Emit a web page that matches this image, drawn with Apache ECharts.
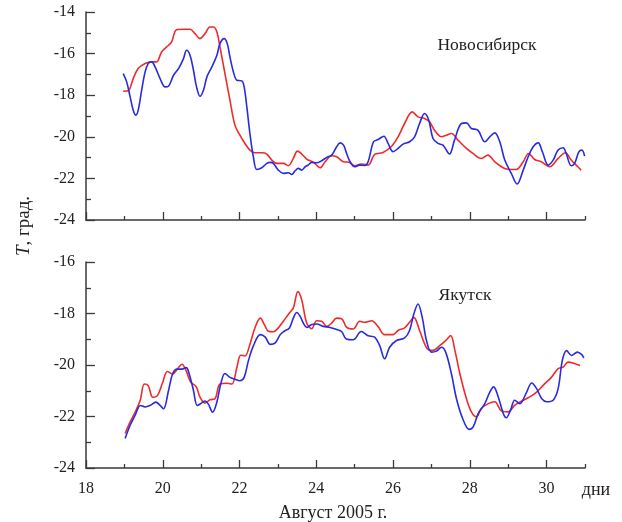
<!DOCTYPE html>
<html>
<head>
<meta charset="utf-8">
<script src="https://cdn.jsdelivr.net/npm/echarts@6/dist/echarts.min.js"></script>
<style>html,body{margin:0;padding:0;background:#fff;}#c{width:622px;height:522px;}</style>
</head>
<body>
<div id="c"></div>
<script>
// ---- data: [day of August 2005, temperature] ----
var novRed = [[18.97,-17.81],[19.10,-17.79],[19.23,-17.2],[19.36,-16.72],[19.54,-16.48],[19.71,-16.4],[19.84,-16.4],[19.97,-15.92],[20.15,-15.6],[20.23,-15.44],[20.36,-14.85],[20.54,-14.83],[20.71,-14.83],[20.84,-15.04],[20.97,-15.28],[21.10,-15.04],[21.23,-14.72],[21.32,-14.72],[21.41,-14.96],[21.49,-15.68],[21.62,-16.96],[21.75,-18.24],[21.88,-19.44],[22.01,-19.92],[22.14,-20.32],[22.27,-20.64],[22.40,-20.77],[22.58,-20.77],[22.71,-20.83],[22.84,-21.12],[22.97,-21.28],[23.14,-21.28],[23.27,-21.39],[23.40,-21.04],[23.51,-20.69],[23.62,-20.83],[23.75,-21.07],[23.93,-21.23],[24.10,-21.49],[24.23,-21.2],[24.40,-20.91],[24.53,-20.96],[24.71,-21.2],[24.85,-21.22],[25.0,-21.39],[25.17,-21.31],[25.35,-21.36],[25.52,-20.85],[25.74,-20.75],[25.95,-20.48],[26.13,-20.0],[26.30,-19.36],[26.50,-18.8],[26.65,-19.04],[26.82,-19.12],[26.95,-19.28],[27.08,-19.68],[27.26,-20.0],[27.39,-19.92],[27.52,-19.84],[27.69,-20.16],[27.91,-20.56],[28.08,-20.8],[28.30,-21.04],[28.47,-20.88],[28.65,-21.2],[28.91,-21.52],[29.08,-21.57],[29.21,-21.57],[29.39,-21.2],[29.53,-20.8],[29.69,-21.09],[29.86,-21.2],[30.08,-21.44],[30.30,-21.04],[30.49,-20.77],[30.64,-21.12],[30.77,-21.36],[30.90,-21.6]];
var novBlue = [[18.97,-16.96],[19.06,-17.36],[19.15,-18.08],[19.23,-18.72],[19.30,-18.96],[19.36,-18.72],[19.45,-17.76],[19.54,-16.88],[19.62,-16.48],[19.71,-16.4],[19.80,-16.64],[19.93,-17.2],[20.06,-17.6],[20.15,-17.57],[20.28,-17.04],[20.41,-16.72],[20.54,-16.24],[20.62,-15.84],[20.71,-16.08],[20.80,-16.8],[20.88,-17.6],[20.97,-18.05],[21.06,-17.76],[21.15,-17.12],[21.28,-16.64],[21.41,-16.08],[21.49,-15.52],[21.60,-15.28],[21.68,-15.52],[21.75,-16.16],[21.84,-16.88],[21.93,-17.28],[22.06,-17.31],[22.12,-17.6],[22.19,-18.56],[22.27,-19.84],[22.36,-20.96],[22.45,-21.57],[22.58,-21.49],[22.71,-21.28],[22.80,-21.23],[22.88,-21.28],[23.01,-21.6],[23.14,-21.76],[23.27,-21.73],[23.36,-21.81],[23.45,-21.63],[23.53,-21.52],[23.62,-21.6],[23.71,-21.44],[23.79,-21.36],[23.88,-21.23],[24.01,-21.25],[24.14,-21.15],[24.27,-20.99],[24.40,-20.88],[24.53,-20.48],[24.62,-20.29],[24.71,-20.4],[24.79,-20.8],[24.88,-21.2],[25.0,-21.44],[25.13,-21.36],[25.26,-21.38],[25.35,-21.2],[25.49,-20.24],[25.61,-20.13],[25.76,-19.97],[25.87,-20.32],[26.0,-20.72],[26.13,-20.56],[26.26,-20.35],[26.43,-20.24],[26.56,-20.0],[26.69,-19.36],[26.82,-18.88],[26.93,-19.2],[27.04,-20.08],[27.17,-20.32],[27.30,-20.4],[27.47,-20.83],[27.60,-20.16],[27.78,-19.36],[27.91,-19.33],[28.04,-19.6],[28.21,-19.68],[28.39,-20.24],[28.52,-20.0],[28.65,-19.81],[28.78,-20.24],[28.91,-21.12],[29.08,-21.76],[29.23,-22.27],[29.39,-21.6],[29.52,-20.96],[29.65,-20.48],[29.78,-20.29],[29.89,-20.72],[30.04,-21.36],[30.17,-21.12],[30.30,-20.64],[30.43,-20.53],[30.51,-20.8],[30.64,-21.39],[30.73,-21.28],[30.84,-20.72],[30.92,-20.64],[30.99,-20.93]];
var yakRed = [[19.02,-22.66],[19.15,-22.21],[19.28,-21.83],[19.41,-21.38],[19.52,-20.74],[19.62,-20.8],[19.74,-21.25],[19.86,-21.19],[20.0,-20.67],[20.12,-20.25],[20.26,-20.35],[20.38,-20.16],[20.50,-19.97],[20.61,-20.23],[20.73,-20.67],[20.87,-20.84],[20.97,-21.25],[21.10,-21.48],[21.23,-21.35],[21.36,-21.31],[21.49,-20.74],[21.67,-20.71],[21.80,-20.74],[21.93,-20.1],[22.03,-19.62],[22.14,-19.65],[22.27,-19.2],[22.40,-18.56],[22.54,-18.18],[22.67,-18.5],[22.75,-18.69],[22.88,-18.71],[23.01,-18.56],[23.14,-18.3],[23.30,-17.98],[23.40,-17.79],[23.52,-17.15],[23.62,-17.47],[23.75,-18.37],[23.88,-18.59],[24.01,-18.28],[24.14,-18.3],[24.27,-18.5],[24.40,-18.37],[24.53,-18.18],[24.66,-18.2],[24.79,-18.54],[24.96,-18.6],[25.13,-18.3],[25.26,-18.34],[25.44,-18.28],[25.61,-18.51],[25.78,-18.82],[26.0,-18.82],[26.13,-18.66],[26.30,-18.56],[26.43,-18.34],[26.54,-18.15],[26.69,-18.66],[26.89,-19.37],[27.04,-19.43],[27.22,-19.24],[27.37,-19.05],[27.50,-18.86],[27.61,-19.43],[27.74,-20.34],[27.91,-21.3],[28.04,-21.82],[28.17,-22.01],[28.30,-21.69],[28.48,-21.5],[28.65,-21.43],[28.82,-21.78],[29.0,-21.82],[29.17,-21.56],[29.34,-21.41],[29.56,-21.24],[29.74,-21.05],[29.91,-20.79],[30.13,-20.47],[30.30,-20.14],[30.43,-20.08],[30.56,-19.89],[30.74,-19.95],[30.87,-20.02]];
var yakBlue = [[19.02,-22.85],[19.15,-22.34],[19.28,-21.95],[19.42,-21.57],[19.54,-21.63],[19.67,-21.57],[19.82,-21.44],[19.93,-21.57],[20.02,-21.7],[20.15,-20.99],[20.26,-20.33],[20.38,-20.16],[20.50,-20.16],[20.61,-20.1],[20.69,-20.35],[20.80,-20.99],[20.90,-21.57],[21.01,-21.48],[21.10,-21.4],[21.18,-21.5],[21.30,-21.83],[21.41,-21.44],[21.51,-20.74],[21.62,-20.33],[21.75,-20.48],[21.88,-20.55],[22.01,-20.61],[22.12,-20.48],[22.23,-19.84],[22.36,-19.26],[22.54,-18.82],[22.67,-18.92],[22.80,-19.2],[22.93,-19.14],[23.06,-18.82],[23.16,-18.69],[23.30,-18.56],[23.40,-18.18],[23.49,-17.96],[23.58,-18.11],[23.66,-18.37],[23.75,-18.54],[23.88,-18.43],[24.01,-18.41],[24.18,-18.5],[24.36,-18.54],[24.53,-18.62],[24.66,-18.7],[24.78,-18.99],[24.96,-19.02],[25.17,-18.7],[25.35,-18.86],[25.52,-18.92],[25.65,-19.24],[25.78,-19.76],[25.91,-19.31],[26.09,-19.05],[26.30,-18.95],[26.43,-18.66],[26.54,-18.02],[26.65,-17.63],[26.76,-18.15],[26.87,-19.05],[27.0,-19.5],[27.13,-19.46],[27.26,-19.31],[27.37,-19.5],[27.52,-20.34],[27.65,-21.3],[27.81,-22.07],[27.98,-22.5],[28.09,-22.39],[28.22,-21.88],[28.39,-21.5],[28.52,-21.05],[28.62,-20.85],[28.74,-21.24],[28.87,-21.88],[28.95,-22.05],[29.06,-21.75],[29.17,-21.37],[29.30,-21.5],[29.48,-21.05],[29.61,-20.7],[29.74,-20.92],[29.87,-21.3],[30.0,-21.43],[30.17,-21.37],[30.30,-20.92],[30.41,-19.82],[30.52,-19.44],[30.65,-19.63],[30.80,-19.5],[30.91,-19.59],[30.97,-19.72]];
var xMajorTicks = [18, 20, 22, 24, 26, 28, 30];
var xMinorTicks = [19, 21, 23, 25, 27, 29, 31];
var panelNames = ['Новосибирск', 'Якутск'];
var xAxisTitle = 'Август 2005 г.';
var xUnit = 'дни';

var FONT = '"Liberation Serif", "Times New Roman", serif';
var AX = '#3a3a3a';
var RED = '#ee2b2b';
var BLUE = '#2a2ae0';

function xAxes(g, labels) {
  return [{
    type: 'value', gridIndex: g, position: 'bottom', min: 18, max: 31, interval: 1,
    axisLine: { show: true, onZero: false, lineStyle: { color: AX, width: 1.5 } },
    axisTick: { show: true, inside: true, length: 8, customValues: xMajorTicks, lineStyle: { color: AX, width: 1.3 } },
    axisLabel: { show: labels, customValues: xMajorTicks, margin: 13, color: '#222', fontFamily: FONT, fontSize: 16 },
    splitLine: { show: false }
  }, {
    type: 'value', gridIndex: g, position: 'bottom', min: 18, max: 31, interval: 1,
    axisLine: { show: false, onZero: false },
    axisTick: { show: true, inside: true, length: 4, customValues: xMinorTicks, lineStyle: { color: AX, width: 1.3 } },
    axisLabel: { show: false },
    splitLine: { show: false }
  }];
}
function yAxis(g, min, max) {
  return {
    type: 'value', gridIndex: g, position: 'left', min: min, max: max, interval: 2,
    axisLine: { show: true, onZero: false, lineStyle: { color: AX, width: 1.5 } },
    axisTick: { show: true, inside: true, length: 9, lineStyle: { color: AX, width: 1.3 } },
    minorTick: { show: true, splitNumber: 2, length: 5, lineStyle: { color: AX, width: 1.3 } },
    axisLabel: { margin: 11, color: '#222', fontFamily: FONT, fontSize: 16 },
    splitLine: { show: false }, minorSplitLine: { show: false }
  };
}
function line(data, color, xi, yi) {
  return {
    type: 'line', data: data, xAxisIndex: xi, yAxisIndex: yi, smooth: 0.35,
    showSymbol: false, symbol: 'none', lineStyle: { color: color, width: 1.6 }, silent: true
  };
}

var chart = echarts.init(document.getElementById('c'), null, { renderer: 'canvas' });
chart.setOption({
  animation: false,
  backgroundColor: '#fff',
  grid: [
    { left: 86, top: 12, width: 499, height: 208 },
    { left: 86, top: 262, width: 499, height: 206 }
  ],
  xAxis: xAxes(0, false).concat(xAxes(1, true)),
  yAxis: [yAxis(0, -24, -14), yAxis(1, -24, -16)],
  series: [
    line(novRed, RED, 0, 0),
    line(novBlue, BLUE, 0, 0),
    line(yakRed, RED, 2, 1),
    line(yakBlue, BLUE, 2, 1)
  ],
  graphic: [
    { type: 'text', x: 487, y: 45, style: { text: panelNames[0], font: '17.5px ' + FONT, fill: '#222', align: 'center', verticalAlign: 'middle' } },
    { type: 'text', x: 465, y: 295, style: { text: panelNames[1], font: '17.5px ' + FONT, fill: '#222', align: 'center', verticalAlign: 'middle' } },
    { type: 'text', x: 596, y: 490, style: { text: xUnit, font: '18px ' + FONT, fill: '#222', align: 'center', verticalAlign: 'middle' } },
    { type: 'text', x: 333, y: 513, style: { text: xAxisTitle, font: '18px ' + FONT, fill: '#222', align: 'center', verticalAlign: 'middle' } },
    { type: 'text', x: 24, y: 226, rotation: Math.PI / 2,
      style: { text: '{i|T}, град.', align: 'center', verticalAlign: 'middle', fill: '#222',
        rich: { i: { font: 'italic 19px ' + FONT, fill: '#222' } }, font: '19px ' + FONT } }
  ]
});
</script>
</body>
</html>
